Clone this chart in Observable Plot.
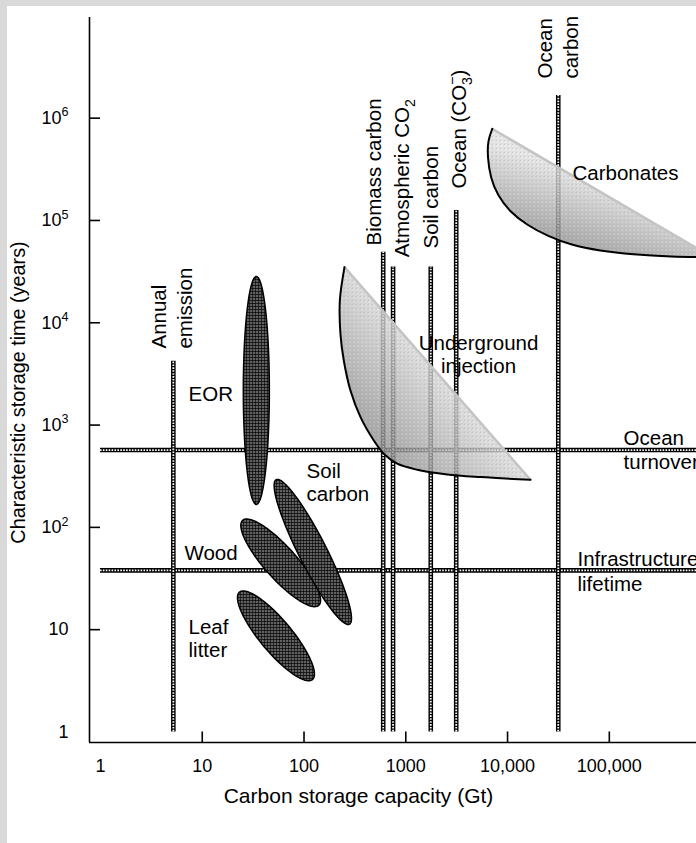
<!DOCTYPE html>
<html><head><meta charset="utf-8">
<script src="https://cdn.jsdelivr.net/npm/d3@7"></script>
<script src="https://cdn.jsdelivr.net/npm/@observablehq/plot@0.6"></script>
<style>
html,body{margin:0;padding:0;background:#d9d9d9;overflow:hidden;width:696px;height:843px}
#panel{position:absolute;left:7px;top:6px;width:689px;height:837px;background:#fff}
#chart{position:absolute;left:0;top:0;width:696px;height:843px}
</style></head><body>
<div id="panel"></div>
<svg width="0" height="0" style="position:absolute;left:0;top:0">
<defs>
  <pattern id="mesh" width="3" height="3" patternUnits="userSpaceOnUse">
    <rect width="3" height="3" fill="#0d0d0d"/>
    <circle cx="1.5" cy="1.5" r="0.8" fill="#fff"/>
  </pattern>
  <pattern id="stip" width="4" height="4" patternUnits="userSpaceOnUse">
    <rect x="0" y="0" width="1" height="1" fill="#fff"/>
    <rect x="2" y="1" width="1" height="1" fill="#fff"/>
    <rect x="1" y="2" width="1" height="1" fill="#fff"/>
    <rect x="3" y="3" width="1" height="1" fill="#fff"/>
    <rect x="3" y="0" width="1" height="1" fill="#000" opacity="0.45"/>
    <rect x="0" y="3" width="1" height="1" fill="#000" opacity="0.45"/>
    <rect x="2" y="2" width="1" height="1" fill="#000" opacity="0.3"/>
  </pattern>
  <linearGradient id="gInj" x1="0.55" y1="0.45" x2="0.12" y2="0.85">
    <stop offset="0" stop-color="#e6e6e6"/><stop offset="1" stop-color="#7a7a7a"/>
  </linearGradient>
  <linearGradient id="gCarb" x1="0.5" y1="0.4" x2="0.2" y2="0.9">
    <stop offset="0" stop-color="#e6e6e6"/><stop offset="1" stop-color="#7a7a7a"/>
  </linearGradient>
</defs>
</svg>
<div id="chart"></div>
<script>
// ---------- data ----------
const xTickValues = [1, 10, 100, 1000, 10000, 100000];
const xTickLabels = ["1", "10", "100", "1000", "10,000", "100,000"];
const yTickValues = [1, 10, 100, 1e3, 1e4, 1e5, 1e6];
const yTickLabels = ["1", "10", "10^{2}", "10^{3}", "10^{4}", "10^{5}", "10^{6}"];

// carbon reservoirs (vertical bars): capacity (Gt) and upper storage time (years)
const reservoirNames = ["Annual emission", "Biomass carbon", "Atmospheric CO2", "Soil carbon", "Ocean (CO3-)", "Ocean carbon"];
const reservoirCapacity = [5.2, 600, 750, 1760, 3130, 31500];
const reservoirTop = [4200, 49000, 35000, 35000, 125000, 1670000];
const reservoirLabelText = ["Annual\nemission", "Biomass carbon", "Atmospheric CO_{2}", "Soil carbon", "Ocean (CO_{3}^{\u2212})", "Ocean\ncarbon"];
const reservoirLabelX = [4.9, 471, 888, 1710, 3230, 30600];
const reservoirLabelY = [5600, 57000, 43600, 53200, 205000, 2440000];

// characteristic timescales (horizontal bars)
const timescaleNames = ["Ocean turnover", "Infrastructure lifetime"];
const timescaleYears = [570, 38];
const timescaleStart = 1;

// storage options drawn as ellipses (log-space centre, semi-axes in decades, tilt)
const storageNames = ["EOR", "Wood", "Soil carbon", "Leaf litter"];
const storageCapacity = [34, 59, 122, 53];
const storageTime = [2180, 45, 57.5, 8.7];
const storageMajor = [1.114, 0.559, 0.793, 0.558];
const storageMinor = [0.128, 0.157, 0.137, 0.157];
const storageTilt = [90, -48, -63, -50];

// underground injection envelope (lower-left boundary)
const injectionCapacity = [250, 225, 228, 246, 286, 359, 485, 608, 824, 1296, 2550, 5430, 16800];
const injectionTime = [35000, 16500, 7800, 4280, 2180, 1195, 707, 524, 419, 366, 329, 310, 292];
// carbonates envelope (lower-left boundary)
const carbonateCapacity = [7080, 6400, 6350, 6800, 8000, 10500, 15500, 25000, 42000, 80000, 170000, 400000, 1035000];
const carbonateTime = [787000, 605000, 420000, 260000, 175000, 122000, 90000, 70000, 57500, 50500, 46500, 44300, 43500];

// annotation labels
const noteText = ["Carbonates", "EOR", "Soil\ncarbon", "Wood", "Leaf\nlitter", "Ocean", "turnover", "Infrastructure", "lifetime"];
const noteX = [43500, 7.33, 106, 6.69, 7.33, 138000, 138000, 48700, 48700];
const noteY = [294000, 2040, 278, 56.8, 8.2, 748, 436, 49.7, 28.3];
const centeredNoteText = ["Underground\ninjection"];
const centeredNoteX = [5190];
const centeredNoteY = [4900];

const xTitle = "Carbon storage capacity (Gt)";
const yTitle = "Characteristic storage time (years)";

// ---------- build tables ----------
const xDomain = [0.78, 719000];
const yDomain = [0.789, 9.64e6];

const reservoirs = reservoirNames.map((n, i) => ({name: n, x: reservoirCapacity[i], top: reservoirTop[i]}));
const reservoirLabels = reservoirLabelText.map((t, i) => ({text: t, x: reservoirLabelX[i], y: reservoirLabelY[i]}));
const notes = noteText.map((t, i) => ({text: t, x: noteX[i], y: noteY[i]}));
const centeredNotes = centeredNoteText.map((t, i) => ({text: t, x: centeredNoteX[i], y: centeredNoteY[i]}));
const injection = injectionCapacity.map((x, i) => ({x, y: injectionTime[i]}));
const carbonates = carbonateCapacity.map((x, i) => ({x, y: carbonateTime[i]}));
const injectionEdge = [injection[0], injection[injection.length - 1]];
const carbonateEdge = [carbonates[0], carbonates[carbonates.length - 1]];

const ellipsePts = [];
storageNames.forEach((name, i) => {
  const cx = Math.log10(storageCapacity[i]), cy = Math.log10(storageTime[i]);
  const a = storageMajor[i], b = storageMinor[i], th = storageTilt[i] * Math.PI / 180;
  const n = 96;
  for (let k = 0; k < n; k++) {
    const t = 2 * Math.PI * k / n;
    const u = a * Math.cos(t), v = b * Math.sin(t);
    ellipsePts.push({name, x: 10 ** (cx + u * Math.cos(th) - v * Math.sin(th)), y: 10 ** (cy + u * Math.sin(th) + v * Math.cos(th))});
  }
});

const xTicks = xTickValues.map((v, i) => ({v, label: xTickLabels[i]}));
const yTicks = yTickValues.map((v, i) => ({v, label: yTickLabels[i]}));

const FS = 20.5;

const chart = Plot.plot({
  width: 696, height: 843,
  marginLeft: 89, marginRight: 0, marginTop: 17, marginBottom: 101,
  x: {type: "log", domain: xDomain, axis: null},
  y: {type: "log", domain: yDomain, axis: null},
  style: {background: "transparent", fontFamily: "'Liberation Sans', Arial, Helvetica, sans-serif", overflow: "hidden", color: "#000"},
  marks: [
    // horizontal timescale bars
    Plot.ruleY(timescaleYears, {x1: timescaleStart, x2: xDomain[1], stroke: "#000", strokeWidth: 4.6}),
    Plot.ruleY(timescaleYears, {x1: timescaleStart, x2: xDomain[1], stroke: "#fff", strokeWidth: 1.8, strokeDasharray: "1.6,1.3"}),
    // vertical reservoir bars
    Plot.ruleX(reservoirs, {x: "x", y1: 1, y2: "top", stroke: "#000", strokeWidth: 4.6}),
    Plot.ruleX(reservoirs, {x: "x", y1: 1, y2: "top", stroke: "#fff", strokeWidth: 1.8, strokeDasharray: "1.6,1.3"}),
    // underground injection envelope
    Plot.line(injection, {x: "x", y: "y", curve: "catmull-rom", fill: "url(#gInj)", stroke: "none", fillOpacity: 0.78}),
    Plot.line(injection, {x: "x", y: "y", curve: "catmull-rom", fill: "url(#stip)", stroke: "none", fillOpacity: 0.6}),
    Plot.line(injectionEdge, {x: "x", y: "y", stroke: "#c4c4c4", strokeWidth: 2.5}),
    Plot.line(injection, {x: "x", y: "y", curve: "catmull-rom", stroke: "#000", strokeWidth: 2}),
    // carbonates envelope
    Plot.line(carbonates, {x: "x", y: "y", curve: "basis", fill: "url(#gCarb)", stroke: "none", fillOpacity: 0.8}),
    Plot.line(carbonates, {x: "x", y: "y", curve: "basis", fill: "url(#stip)", stroke: "none", fillOpacity: 0.6}),
    Plot.line(carbonateEdge, {x: "x", y: "y", stroke: "#c4c4c4", strokeWidth: 2.5}),
    Plot.line(carbonates, {x: "x", y: "y", curve: "basis", stroke: "#000", strokeWidth: 2}),
    // storage ellipses
    Plot.line(ellipsePts, {x: "x", y: "y", z: "name", curve: "linear-closed", fill: "url(#mesh)", stroke: "#000", strokeWidth: 1.5}),
    // axes
    Plot.ruleX([xDomain[0]], {y1: yDomain[0], y2: yDomain[1], stroke: "#000", strokeWidth: 1.6}),
    Plot.ruleY([yDomain[0]], {x1: xDomain[0], x2: xDomain[1], stroke: "#000", strokeWidth: 1.6}),
    Plot.ruleY(yTickValues.slice(1), {x1: xDomain[0], x2: 1, stroke: "#000", strokeWidth: 1.6}),
    Plot.ruleX(xTickValues.slice(1), {y1: yDomain[0], y2: 1, stroke: "#000", strokeWidth: 1.6}),
    Plot.text(yTicks, {x: xDomain[0], y: "v", text: "label", textAnchor: "end", dx: -21, fontSize: 18}),
    Plot.text(xTicks, {x: "v", y: yDomain[0], text: "label", dy: 24, fontSize: 18}),
    Plot.text([xTitle], {frameAnchor: "bottom", text: d => d, textAnchor: "middle", lineAnchor: "middle", dx: -34.5, dy: 54, fontSize: 21}),
    Plot.text([yTitle], {frameAnchor: "left", text: d => d, textAnchor: "middle", lineAnchor: "middle", rotate: -90, dx: -71, dy: 12.5, fontSize: 19.8}),
    // labels
    Plot.text(reservoirLabels, {x: "x", y: "y", text: "text", rotate: -90, textAnchor: "start", lineAnchor: "middle", lineHeight: 1.25, fontSize: FS}),
    Plot.text(notes, {x: "x", y: "y", text: "text", textAnchor: "start", lineAnchor: "middle", lineHeight: 1.12, fontSize: FS}),
    Plot.text(centeredNotes, {x: "x", y: "y", text: "text", textAnchor: "middle", lineAnchor: "middle", lineHeight: 1.08, fontSize: FS})
  ]
});
document.getElementById("chart").appendChild(chart);

// rich text: _{sub} and ^{sup}
const NS = "http://www.w3.org/2000/svg";
chart.querySelectorAll("text").forEach(t => {
  if (t.querySelector("tspan")) return;
  const s = t.textContent;
  if (!/[_^]\{/.test(s)) return;
  const fs = parseFloat(getComputedStyle(t).fontSize) || 18;
  t.textContent = "";
  let shift = 0, prev = null, prevLen = 0;
  const add = (str, kind) => {
    if (!str) return;
    const sp = document.createElementNS(NS, "tspan");
    const target = kind === "sub" ? 0.3 * fs : kind === "sup" ? -0.42 * fs : 0;
    sp.setAttribute("dy", target - shift);
    shift = target;
    if (kind !== "normal") sp.setAttribute("font-size", 0.7 * fs);
    if (kind === "sup" && prev === "sub") sp.setAttribute("dx", -0.556 * 0.7 * fs * prevLen);
    sp.textContent = str;
    t.appendChild(sp);
    prev = kind; prevLen = str.length;
  };
  const re = /([_^])\{([^}]*)\}/g;
  let last = 0, m;
  while ((m = re.exec(s))) {
    add(s.slice(last, m.index), "normal");
    add(m[2], m[1] === "_" ? "sub" : "sup");
    last = re.lastIndex;
  }
  add(s.slice(last), "normal");
});
</script>
</body></html>
